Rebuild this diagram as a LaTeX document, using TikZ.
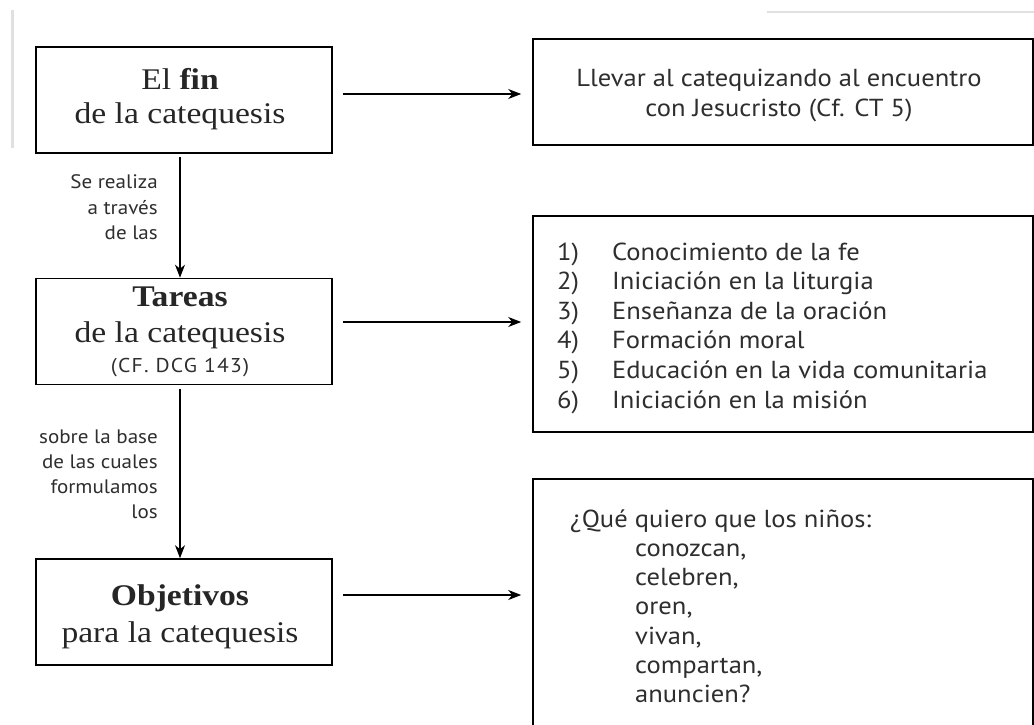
\documentclass[tikz,border=0pt]{standalone}
\usepackage{fontspec}
\setmainfont{Liberation Serif}[FakeStretch=1.12]
\setsansfont{PT Sans}[FakeStretch=1.08]
\usetikzlibrary{arrows.meta}
\tikzset{
  lbox/.style={draw=black, line width=1.6pt, minimum width=296, minimum height=106, inner sep=0pt},
  rbox/.style={draw=black, line width=1.6pt, minimum width=500, inner sep=0pt},
  sertext/.style={inner sep=0pt, text=black!85, font=\fontsize{30}{34}\selectfont},
  smallsans/.style={inner sep=0pt, text=black!82, font=\sffamily\fontsize{20}{24}\selectfont\addfontfeature{LetterSpace=6}},
  rtext/.style={inner sep=0pt, text=black!82, font=\sffamily\fontsize{24.6}{28}\selectfont},
  lab/.style={inner sep=0pt, anchor=base east, text=black!82, font=\sffamily\fontsize{19.5}{24}\selectfont},
  arr/.style={draw=black, line width=1.6pt, -{Stealth[length=13pt, width=10pt, inset=4pt]}},
  artifact/.style={draw=black!12, line width=3pt}
}
\begin{document}
\begin{tikzpicture}[x=1pt, y=-1pt]
\clip (0,0) rectangle (1034,725);
\fill[white] (0,0) rectangle (1034,725);
% scan artifacts
\draw[artifact] (12,10) -- (12,148);
\draw[artifact, line width=2pt] (767,12) -- (1034,12);

% left boxes
\node[lbox] (b1) at (184,100) {};
\node[lbox] (b2) at (184,331.5) {};
\node[lbox] (b3) at (184,612) {};
% right boxes
\node[rbox, minimum height=106] (r1) at (783,92) {};
\node[rbox, minimum height=216] (r2) at (783,324) {};
\node[rbox, minimum height=270] (r3) at (783,614) {};

% left box texts
\node[sertext, anchor=base] (t1a) at (180,89) {El \textbf{fin}};
\node[sertext, anchor=base] (t1b) at (180,123) {de la catequesis};
\node[sertext, anchor=base] (t2a) at (180,306) {\textbf{Tareas}};
\node[sertext, anchor=base] (t2b) at (180,342) {de la catequesis};
\node[smallsans, anchor=base] (t2c) at (180,372) {(CF. DCG 143)};
\node[sertext, anchor=base] (t3a) at (180,605) {\textbf{Objetivos}};
\node[sertext, anchor=base] (t3b) at (180,642) {para la catequesis};

% right box 1
\node[rtext, anchor=base] (ra1) at (779,87) {Llevar al catequizando al encuentro};
\node[rtext, anchor=base] (ra2) at (779,117) {con Jesucristo (Cf. CT 5)};

% right box 2 list
\foreach \i/\t in {1/Conocimiento de la fe, 2/Iniciación en la liturgia, 3/Enseñanza de la oración, 4/Formación moral, 5/Educación en la vida comunitaria, 6/Iniciación en la misión}{
  \node[rtext, anchor=base west] (n\i) at (557,{260+29.6*(\i-1)}) {\i)};
  \node[rtext, anchor=base west] (l\i) at (612,{260+29.6*(\i-1)}) {\t};
}

% right box 3
\node[rtext, anchor=base west] (q0) at (570,527) {¿Qué quiero que los niños:};
\foreach \i/\t in {1/{conozcan,}, 2/{celebren,}, 3/{oren,}, 4/{vivan,}, 5/{compartan,}, 6/{anuncien?}}{
  \node[rtext, anchor=base west] (q\i) at (635,{527+29.3*\i}) {\t};
}

% connector labels
\node[lab] (s1) at (158,188) {Se realiza};
\node[lab] (s2) at (158,214) {a través};
\node[lab] (s3) at (158,239) {de las};
\node[lab] (u1) at (158,443) {sobre la base};
\node[lab] (u2) at (158,468) {de las cuales};
\node[lab] (u3) at (158,493) {formulamos};
\node[lab] (u4) at (158,518) {los};

% vertical arrows
\draw[arr, shorten <=3pt] ([xshift=-4pt]b1.south) -- ([xshift=-4pt]b2.north);
\draw[arr, shorten <=4pt] ([xshift=-4pt]b2.south) -- ([xshift=-4pt]b3.north);

% horizontal arrows
\coordinate (h1) at ([yshift=6pt]b1.east);
\coordinate (h2) at ([yshift=9.5pt]b2.east);
\coordinate (h3) at ([yshift=17pt]b3.east);
\draw[arr, shorten <=10pt, shorten >=11pt] (h1) -- (h1 -| r1.west);
\draw[arr, shorten <=10pt, shorten >=11pt] (h2) -- (h2 -| r2.west);
\draw[arr, shorten <=10pt, shorten >=11pt] (h3) -- (h3 -| r3.west);
\end{tikzpicture}
\end{document}
